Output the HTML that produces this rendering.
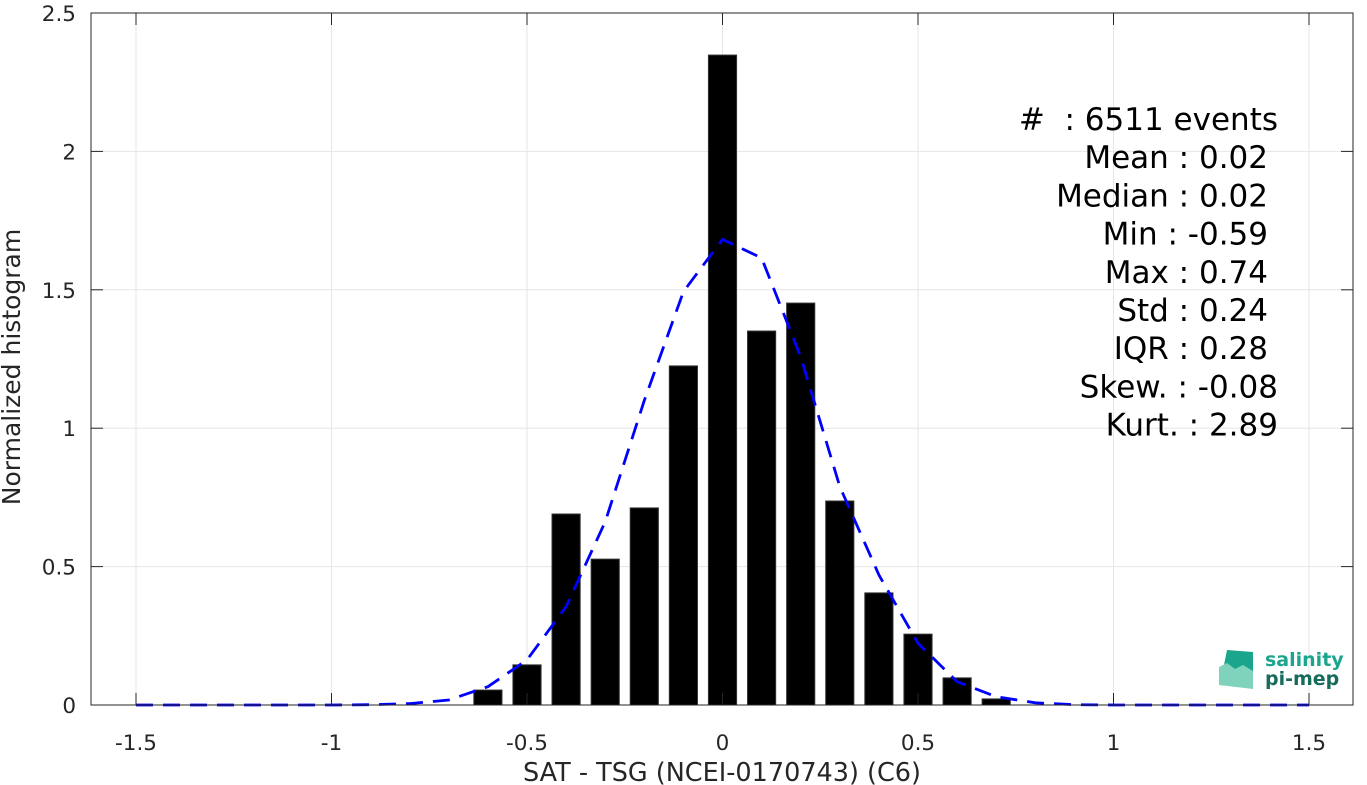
<!DOCTYPE html>
<html><head><meta charset="utf-8"><style>
html,body{margin:0;padding:0;background:#fff;}
svg{display:block;font-family:"DejaVu Sans","Liberation Sans",sans-serif;}
</style></head><body>
<svg id="chart" width="1367" height="785" viewBox="0 0 1367 785"></svg>
<script>
const binCenters=[-0.6,-0.5,-0.4,-0.3,-0.2,-0.1,0,0.1,0.2,0.3,0.4,0.5,0.6,0.7];
const binValues=[0.054,0.145,0.69,0.527,0.712,1.225,2.348,1.351,1.452,0.737,0.405,0.256,0.098,0.022];
const fitX=[-1.5,-1.4,-1.3,-1.2,-1.1,-1.0,-0.9,-0.8,-0.7,-0.6,-0.5,-0.4,-0.3,-0.2,-0.1,0,0.1,0.2,0.3,0.4,0.5,0.6,0.7,0.8,0.9,1.0,1.1,1.2,1.3,1.4,1.5];
const fitY=[0,0,0,0,0,0,0.001,0.005,0.018,0.066,0.163,0.355,0.662,1.10,1.493,1.682,1.615,1.258,0.789,0.47,0.223,0.084,0.03,0.008,0.001,0,0,0,0,0,0];
const xTicks=[-1.5,-1,-0.5,0,0.5,1,1.5];
const xTickLabels=["-1.5","-1","-0.5","0","0.5","1","1.5"];
const yTicks=[0,0.5,1,1.5,2,2.5];
const yTickLabels=["0","0.5","1","1.5","2","2.5"];
const statsLines=["#\u00a0\u00a0: 6511 events","Mean : 0.02","Median : 0.02","Min : -0.59","Max : 0.74","Std : 0.24","IQR : 0.28","Skew. : -0.08","Kurt. : 2.89"];

const NS="http://www.w3.org/2000/svg";
const svg=document.getElementById('chart');
const L=91,R=1353,T=13,B=705;
const xs=v=>722.5+v*391;
const ys=v=>B-v*276.8;
function mk(tag,attrs,parent){const e=document.createElementNS(NS,tag);for(const k in attrs)e.setAttribute(k,attrs[k]);(parent||svg).appendChild(e);return e;}

xTicks.forEach((t,i)=>{
  const g=mk('line',{x1:xs(t),x2:xs(t),y1:T,y2:B,stroke:'#e6e6e6','stroke-width':1});
  
  
});
yTicks.forEach((t,i)=>{
  const g=mk('line',{x1:L,x2:R,y1:ys(t),y2:ys(t),stroke:'#e6e6e6','stroke-width':1});
  
  
});
binCenters.forEach((c,i)=>{
  const x0=xs(c-0.036),x1=xs(c+0.036);
  const b=mk('rect',{x:x0,y:ys(binValues[i]),width:x1-x0,height:B-ys(binValues[i]),fill:'#000',stroke:'#333','stroke-width':1});
  
  
});
const pts=fitX.map((x,i)=>xs(x).toFixed(1)+','+ys(fitY[i]).toFixed(1)).join(' ');
const fl=mk('polyline',{points:pts,fill:'none',stroke:'#0000ff','stroke-width':2.8,'stroke-dasharray':'17,10'});


const fr=mk('rect',{x:L,y:T,width:R-L,height:B-T,fill:'none',stroke:'#262626','stroke-width':1});


xTicks.forEach((t,i)=>{
  mk('line',{x1:xs(t),x2:xs(t),y1:B,y2:B-12,stroke:'#262626'});
  mk('line',{x1:xs(t),x2:xs(t),y1:T,y2:T+12,stroke:'#262626'});
  const tx=mk('text',{x:xs(t),y:750,'text-anchor':'middle','font-size':21.5,fill:'#262626'});
  tx.textContent=xTickLabels[i];
  
  
});
yTicks.forEach((t,i)=>{
  mk('line',{x1:L,x2:L+12,y1:ys(t),y2:ys(t),stroke:'#262626'});
  mk('line',{x1:R,x2:R-12,y1:ys(t),y2:ys(t),stroke:'#262626'});
  const tx=mk('text',{x:76,y:ys(t)+8,'text-anchor':'end','font-size':21.5,fill:'#262626'});
  tx.textContent=yTickLabels[i];
  
  
});
const xt=mk('text',{x:722,y:781,'text-anchor':'middle','font-size':25.5,fill:'#262626'});
xt.textContent='SAT - TSG (NCEI-0170743) (C6)';


const yt=mk('text',{x:0,y:0,'text-anchor':'middle','font-size':25,fill:'#262626',transform:'translate(20,367) rotate(-90)'});
yt.textContent='Normalized histogram';


const rightEdges=[1278,1268,1268,1268,1268,1268,1268,1278,1278];
statsLines.forEach((s,i)=>{
  const tx=mk('text',{x:rightEdges[i],y:130+i*38.2,'text-anchor':'end','font-size':31,fill:'#000'});
  tx.textContent=s;
  
  
});
</script>
<svg style="position:absolute;left:1215px;top:645px" width="130" height="50">
  <polygon points="12,5 38,7 38,42 5,40" fill="#1aa58c"/>
  <polygon points="4,22 12,18 20,24 28,20 38,26 38,44 4,40" fill="#7fd3bd"/>
  <text x="50" y="21" font-size="19" font-weight="bold" fill="#1aa58c" font-family="DejaVu Sans,sans-serif">salinity</text>
  <text x="50" y="40" font-size="19" font-weight="bold" fill="#176b5b" font-family="DejaVu Sans,sans-serif">pi-mep</text>
</svg>
</body></html>
